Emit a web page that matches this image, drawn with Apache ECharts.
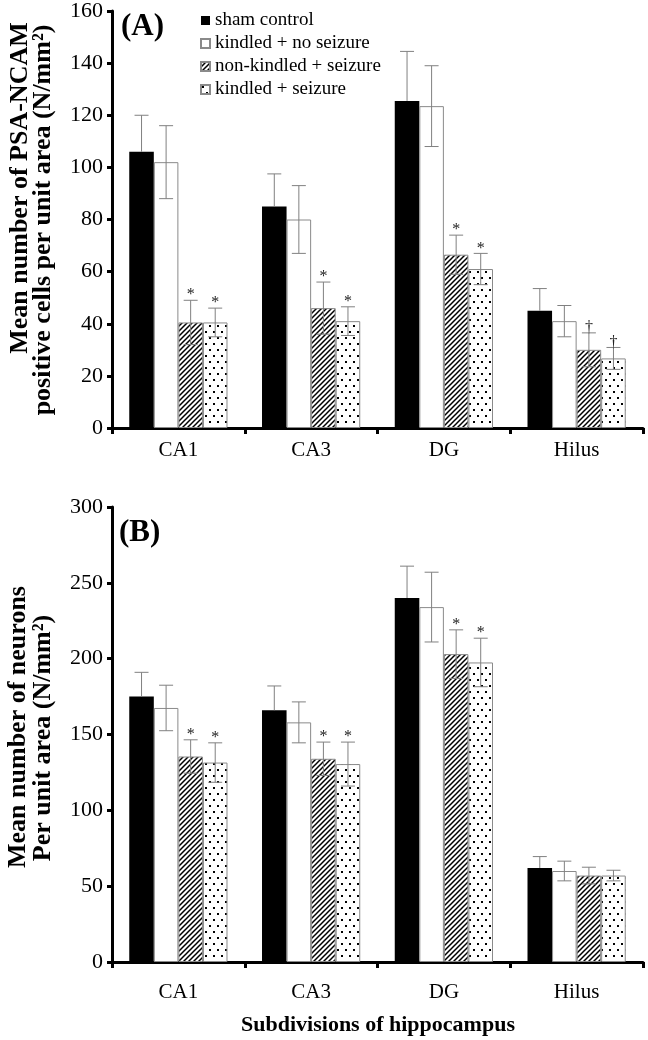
<!DOCTYPE html>
<html><head><meta charset="utf-8">
<script src="https://cdn.jsdelivr.net/npm/echarts@6/dist/echarts.min.js"></script>
<style>html,body{margin:0;padding:0;background:#fff}#c{width:648px;height:1040px}</style>
</head><body><div id="c"></div>
<script>
// ---- data ----
const categories = ['CA1', 'CA3', 'DG', 'Hilus'];
const groups = ['sham control', 'kindled + no seizure', 'non-kindled + seizure', 'kindled + seizure'];

// Panel A: PSA-NCAM positive cells (N/mm2)
const psaSham = [106, 85, 125.5, 45];
const psaKindledNoSeizure = [102, 80, 123.5, 41];
const psaNonKindledSeizure = [40.5, 46, 66.5, 30];
const psaKindledSeizure = [40.5, 41, 61, 26.7];
const psaShamErr = [14, 12.5, 19, 8.5];
const psaKindledNoSeizureErr = [14, 13, 15.5, 6];
const psaNonKindledSeizureErr = [8.5, 10, 7.5, 6.5];
const psaKindledSeizureErr = [5.5, 5.5, 6, 4.2];
const psaNonKindledSeizureMark = ['*', '*', '*', '\u2020'];
const psaKindledSeizureMark = ['*', '*', '*', '\u2020'];
const psaTicks = [0, 20, 40, 60, 80, 100, 120, 140, 160];

// Panel B: neurons (N/mm2)
const neuSham = [175, 166, 240, 62];
const neuKindledNoSeizure = [167.5, 158, 234, 60];
const neuNonKindledSeizure = [135.5, 134, 203, 57];
const neuKindledSeizure = [131.5, 130.5, 197.5, 57];
const neuShamErr = [16, 16, 21, 7.5];
const neuKindledNoSeizureErr = [15, 13.5, 23, 6.5];
const neuNonKindledSeizureErr = [11, 11, 16, 5.5];
const neuKindledSeizureErr = [13, 14.5, 16, 3.5];
const neuNonKindledSeizureMark = ['*', '*', '*', ''];
const neuKindledSeizureMark = ['*', '*', '*', ''];
const neuTicks = [0, 50, 100, 150, 200, 250, 300];

// ---- styles ----
const SERIF = 'Liberation Serif';
const GAP = 0.26;

function hatchPattern() {
  const c = document.createElement('canvas');
  c.width = 5; c.height = 5;
  const g = c.getContext('2d');
  g.fillStyle = '#fff'; g.fillRect(0, 0, 5, 5);
  g.strokeStyle = '#000'; g.lineWidth = 1.5;
  g.beginPath();
  g.moveTo(-1, 6); g.lineTo(6, -1);
  g.moveTo(-1, 1); g.lineTo(1, -1);
  g.moveTo(4, 6); g.lineTo(6, 4);
  g.stroke();
  return c;
}
function dotPattern() {
  const c = document.createElement('canvas');
  c.width = 8; c.height = 12;
  const g = c.getContext('2d');
  g.fillStyle = '#fff'; g.fillRect(0, 0, 8, 12);
  g.fillStyle = '#000';
  g.fillRect(1, 1, 2, 2);
  g.fillRect(5, 7, 2, 2);
  return c;
}
const fills = [
  { color: '#000', borderColor: '#000', borderWidth: 0 },
  { color: '#fff', borderColor: '#8a8a8a', borderWidth: 1 },
  { color: { image: hatchPattern(), repeat: 'repeat' }, borderColor: '#8a8a8a', borderWidth: 1 },
  { color: { image: dotPattern(), repeat: 'repeat' }, borderColor: '#8a8a8a', borderWidth: 1 }
];

function errSeries(gi, k, means, errs, marks) {
  return {
    type: 'custom', xAxisIndex: gi, yAxisIndex: gi, z: 5, silent: true,
    data: categories.map((c, i) => [i, means[i], errs[i]]),
    encode: { x: 0, y: 1 },
    renderItem: function (params, api) {
      const cat = api.value(0), mean = api.value(1), err = api.value(2);
      const band = api.size([1, 0])[0];
      const bw = band * (1 - GAP) / 4;
      const base = api.coord([cat, mean]);
      const x = base[0] + (k - 1.5) * bw;
      const top = api.coord([cat, mean + err])[1];
      const upperOnly = (k === 0);
      const bot = upperOnly ? base[1] : api.coord([cat, mean - err])[1];
      const cap = 7;
      const st = { stroke: '#808080', lineWidth: 1 };
      const ch = [
        { type: 'line', shape: { x1: x, y1: top, x2: x, y2: bot }, style: st },
        { type: 'line', shape: { x1: x - cap, y1: top, x2: x + cap, y2: top }, style: st }
      ];
      if (!upperOnly) ch.push({ type: 'line', shape: { x1: x - cap, y1: bot, x2: x + cap, y2: bot }, style: st });
      const m = marks ? marks[params.dataIndex] : '';
      if (m) ch.push({ type: 'text', style: { text: m, x: x, y: top + 3, align: 'center', verticalAlign: 'bottom', font: '16px "' + SERIF + '"', fill: '#222' } });
      return { type: 'group', children: ch };
    }
  };
}

function barSeries(gi, k, data) {
  return {
    type: 'bar', name: groups[k], xAxisIndex: gi, yAxisIndex: gi,
    data: data, barGap: '0%', barCategoryGap: (GAP * 100) + '%',
    itemStyle: fills[k], emphasis: { disabled: true }, z: 2
  };
}

const axisLine = { show: true, lineStyle: { color: '#000', width: 3 } };
function yAxis(gi, ticks) {
  return {
    type: 'value', gridIndex: gi, min: ticks[0], max: ticks[ticks.length - 1],
    interval: ticks[1] - ticks[0],
    axisLine: axisLine, axisTick: { show: true, length: 5, lineStyle: { color: '#000', width: 3 } },
    splitLine: { show: false },
    axisLabel: { fontFamily: SERIF, fontSize: 22, color: '#000', margin: 9 }
  };
}
function xAxis(gi, margin) {
  return {
    type: 'category', gridIndex: gi, data: categories,
    axisLine: axisLine, axisTick: { show: true, length: 6, lineStyle: { color: '#000', width: 3 } },
    axisLabel: { fontFamily: SERIF, fontSize: 21, color: '#000', margin: margin }
  };
}

const chart = echarts.init(document.getElementById('c'), null, { renderer: 'canvas' });
chart.setOption({
  animation: false,
  backgroundColor: '#fff',
  grid: [
    { left: 112, top: 6, width: 531, height: 422 },
    { left: 112, top: 507, width: 531, height: 455 }
  ],
  xAxis: [xAxis(0, 12), xAxis(1, 20)],
  yAxis: [yAxis(0, psaTicks), yAxis(1, neuTicks)],
  legend: {
    orient: 'vertical', left: 195, top: 6, itemWidth: 9, itemHeight: 9, itemGap: 4,
    icon: 'rect', selectedMode: false, data: groups,
    textStyle: { fontFamily: SERIF, fontSize: 19, color: '#000' }
  },
  graphic: [
    { type: 'text', left: 121, top: 11, style: { text: '(A)', font: 'bold 31px "' + SERIF + '"', fill: '#000' } },
    { type: 'text', left: 119, top: 517, style: { text: '(B)', font: 'bold 31px "' + SERIF + '"', fill: '#000' } },
    { type: 'text', x: 20, y: 188, rotation: Math.PI / 2, style: { text: 'Mean number of PSA-NCAM', align: 'center', verticalAlign: 'middle', font: 'bold 26px "' + SERIF + '"', fill: '#000' } },
    { type: 'text', x: 43, y: 220, rotation: Math.PI / 2, style: { text: 'positive cells per unit area (N/mm\u00B2)', align: 'center', verticalAlign: 'middle', font: 'bold 26px "' + SERIF + '"', fill: '#000' } },
    { type: 'text', x: 18, y: 727, rotation: Math.PI / 2, style: { text: 'Mean number of neurons', align: 'center', verticalAlign: 'middle', font: 'bold 26px "' + SERIF + '"', fill: '#000' } },
    { type: 'text', x: 43, y: 738, rotation: Math.PI / 2, style: { text: 'Per unit area (N/mm\u00B2)', align: 'center', verticalAlign: 'middle', font: 'bold 26px "' + SERIF + '"', fill: '#000' } },
    { type: 'text', x: 378, y: 1025, style: { text: 'Subdivisions of hippocampus', align: 'center', verticalAlign: 'middle', font: 'bold 22px "' + SERIF + '"', fill: '#000' } }
  ],
  series: [
    barSeries(0, 0, psaSham), barSeries(0, 1, psaKindledNoSeizure),
    barSeries(0, 2, psaNonKindledSeizure), barSeries(0, 3, psaKindledSeizure),
    errSeries(0, 0, psaSham, psaShamErr, null),
    errSeries(0, 1, psaKindledNoSeizure, psaKindledNoSeizureErr, null),
    errSeries(0, 2, psaNonKindledSeizure, psaNonKindledSeizureErr, psaNonKindledSeizureMark),
    errSeries(0, 3, psaKindledSeizure, psaKindledSeizureErr, psaKindledSeizureMark),
    barSeries(1, 0, neuSham), barSeries(1, 1, neuKindledNoSeizure),
    barSeries(1, 2, neuNonKindledSeizure), barSeries(1, 3, neuKindledSeizure),
    errSeries(1, 0, neuSham, neuShamErr, null),
    errSeries(1, 1, neuKindledNoSeizure, neuKindledNoSeizureErr, null),
    errSeries(1, 2, neuNonKindledSeizure, neuNonKindledSeizureErr, neuNonKindledSeizureMark),
    errSeries(1, 3, neuKindledSeizure, neuKindledSeizureErr, neuKindledSeizureMark)
  ]
});
</script></body></html>
